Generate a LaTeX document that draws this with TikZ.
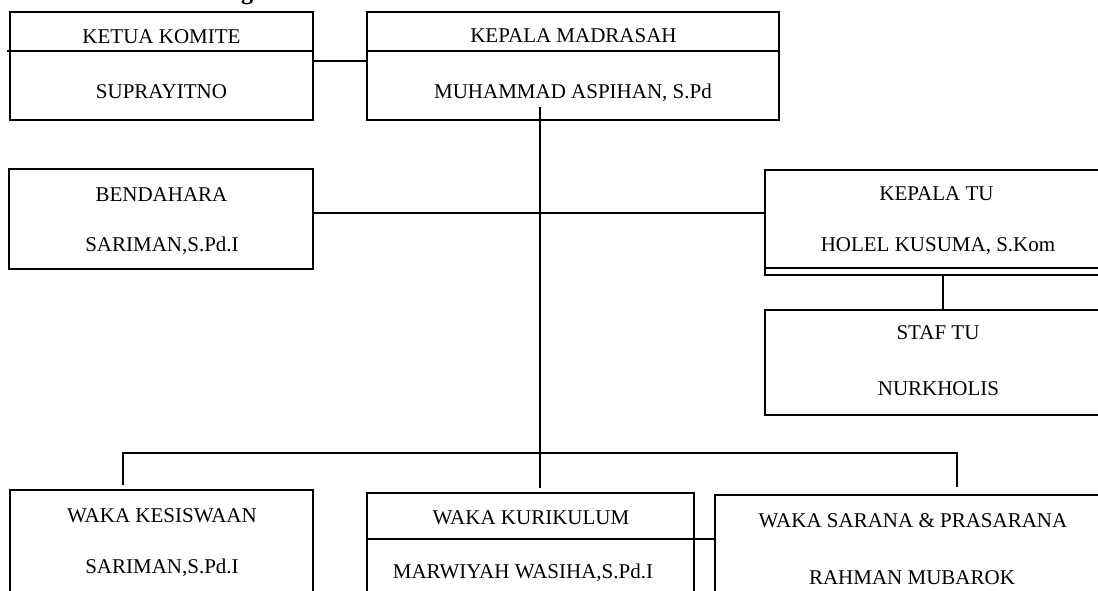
\documentclass[tikz,border=0pt]{standalone}
\usepackage{fontspec}
\setmainfont{Liberation Serif}
\usetikzlibrary{calc}
\begin{document}
\begin{tikzpicture}[x=1pt,y=-1pt,
  box/.style={draw, line width=1.8pt, rectangle, inner sep=0pt},
  conn/.style={line width=1.8pt},
  lbl/.style={anchor=base, inner sep=0pt, font=\fontsize{21}{25}\selectfont}]
\useasboundingbox (0,0) rectangle (1098,590);
\clip (0,0) rectangle (1098,590);
% partly visible heading
\node[anchor=base, inner sep=0pt, font=\fontsize{24}{28}\selectfont\bfseries] (ttl) at (247,-1) {g};
% boxes
\node[box, minimum width=303pt, minimum height=108pt] (komite) at (161.5,66) {};
\node[box, minimum width=412pt, minimum height=108pt] (kepala) at (573,66) {};
\node[box, minimum width=304pt, minimum height=100pt] (bendahara) at (161,219) {};
\node[box, minimum width=346pt, minimum height=105pt] (kepalatu) at (938,222.5) {};
\node[box, minimum width=346pt, minimum height=105pt] (staftu) at (938,362.5) {};
\node[box, minimum width=303pt, minimum height=110pt] (kesiswaan) at (161.5,545) {};
\node[box, minimum width=327pt, minimum height=107pt] (kurikulum) at (530.5,546.5) {};
\node[box, minimum width=396pt, minimum height=105pt] (sarana) at (913,547.5) {};
% dividers
\draw[conn] ($(komite.north west)+(-2,40)$) -- ($(komite.north east)+(0,40)$);
\draw[conn] ($(kepala.north west)+(0,40)$) -- ($(kepala.north east)+(0,40)$);
\draw[conn] ($(kurikulum.north west)+(0,47)$) -- ($(kurikulum.north east)+(0,47)$);
\draw[conn] ($(kepalatu.south west)+(0,-8)$) -- ($(kepalatu.south east)+(0,-8)$);
% connectors
\coordinate (kk) at ($(komite.north east)+(0,50)$);
\draw[conn] (kk) -- (kk -| kepala.west);
\coordinate (vtop) at (540,107);
\coordinate (vbot) at (540,488);
\draw[conn] (vtop) -- (vbot);
\coordinate (mid) at (540,213);
\draw[conn] (mid -| bendahara.east) -- (mid -| kepalatu.west);
\draw[conn] ([xshift=5pt]kepalatu.south) -- ([xshift=5pt]staftu.north);
\coordinate (busL) at (123,453);
\coordinate (busR) at (957,453);
\draw[conn] ($(busL |- kesiswaan.north)+(0,-4)$) -- (busL) -- (busR) -- ($(busR |- sarana.north)+(0,-7)$);
\coordinate (ks) at ($(kurikulum.north east)+(0,47)$);
\draw[conn] (ks) -- (ks -| sarana.west);
% texts
\node[lbl] (t1) at (161.5,43) {KETUA KOMITE};
\node[lbl] (t2) at (161.5,98) {SUPRAYITNO};
\node[lbl] (t3) at (573.5,42.5) {KEPALA MADRASAH};
\node[lbl] (t4) at (573,98) {MUHAMMAD ASPIHAN, S.Pd};
\node[lbl] (t5) at (161.5,201) {BENDAHARA};
\node[lbl] (t6) at (162,251.5) {SARIMAN,S.Pd.I};
\node[lbl] (t7) at (936.5,200) {KEPALA TU};
\node[lbl] (t8) at (938,251) {HOLEL KUSUMA, S.Kom};
\node[lbl] (t9) at (938,339) {STAF TU};
\node[lbl] (t10) at (938.5,395) {NURKHOLIS};
\node[lbl] (t11) at (162,522) {WAKA KESISWAAN};
\node[lbl] (t12) at (162,573) {SARIMAN,S.Pd.I};
\node[lbl] (t13) at (531,524) {WAKA KURIKULUM};
\node[lbl] (t14) at (523,578) {MARWIYAH WASIHA,S.Pd.I};
\node[lbl] (t15) at (913,527) {WAKA SARANA \& PRASARANA};
\node[lbl] (t16) at (912,584) {RAHMAN MUBAROK};
\end{tikzpicture}
\end{document}
